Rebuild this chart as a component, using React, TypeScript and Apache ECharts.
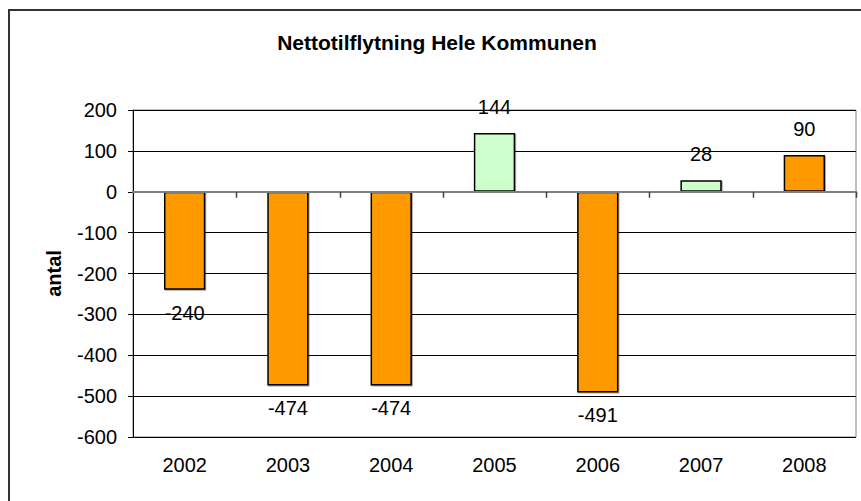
import React, { useEffect, useRef } from "react";
import * as echarts from "echarts";

const titleText = "Nettotilflytning Hele Kommunen";
const yAxisName = "antal";
const years = ["2002", "2003", "2004", "2005", "2006", "2007", "2008"];
const values = [-240, -474, -474, 144, -491, 28, 90];
const barColors = ["#FF9900", "#FF9900", "#FF9900", "#CCFFCC", "#FF9900", "#CCFFCC", "#FF9900"];

const FONT = "'Liberation Sans', Arial, sans-serif";

export default function App() {
  const ref = useRef<HTMLDivElement>(null);
  useEffect(() => {
    if (!ref.current) return;
    const chart = echarts.init(ref.current, null, { renderer: "svg" });
    chart.setOption({
      animation: false,
      backgroundColor: "#ffffff",
      title: {
        text: titleText,
        left: 432,
        top: 27,
        textAlign: "center",
        textStyle: { fontFamily: FONT, fontSize: 21, fontWeight: "bold", color: "#000" },
      },
      graphic: [
        {
          type: "rect",
          shape: { x: 9, y: 10, width: 900, height: 600 },
          style: { fill: "none", stroke: "#333", lineWidth: 2 },
          z: 100,
        },
      ],
      grid: {
        left: 133,
        top: 110,
        right: 5,
        bottom: 64,
        show: true,
        borderColor: "#808080",
        borderWidth: 1,
        containLabel: false,
      },
      xAxis: [
        {
          type: "category",
          data: years,
          position: "bottom",
          axisLine: { show: false, onZero: false },
          axisTick: { show: false },
          axisLabel: { margin: 18, fontFamily: FONT, fontSize: 20, color: "#000" },
          splitLine: { show: false },
        },
        {
          type: "category",
          data: years,
          position: "top",
          axisLine: { show: true, onZero: true, lineStyle: { color: "#808080", width: 2 } },
          axisTick: { show: false },
          axisLabel: { show: false },
          splitLine: { show: false },
          z: 5,
        },
      ],
      yAxis: {
        type: "value",
        min: -600,
        max: 200,
        interval: 100,
        name: yAxisName,
        nameLocation: "middle",
        nameRotate: 90,
        nameGap: 69,
        nameTextStyle: { fontFamily: FONT, fontSize: 20, fontWeight: "bold", color: "#000" },
        axisLine: { show: true, lineStyle: { color: "#000", width: 1 } },
        axisTick: { show: true, length: 5, inside: false, lineStyle: { color: "#000" } },
        axisLabel: { margin: 16, fontFamily: FONT, fontSize: 20, color: "#000" },
        splitLine: { show: true, lineStyle: { color: "#000", width: 1 } },
      },
      series: [
        {
          type: "bar",
          xAxisIndex: 0,
          barWidth: "40%",
          data: values.map((v, i) => ({
            value: v,
            itemStyle: { color: barColors[i] },
            label: {
              position: v >= 0 ? "top" : "bottom",
              distance: v >= 0 ? 16 : 13,
            },
          })),
          itemStyle: {
            borderColor: "#000",
            borderWidth: 1.5,
            shadowColor: "rgba(0,0,0,0.35)",
            shadowOffsetX: 1,
            shadowOffsetY: 1,
            shadowBlur: 0,
          },
          label: {
            show: true,
            fontFamily: FONT,
            fontSize: 20,
            color: "#000",
          },
          z: 3,
        },
        {
          type: "custom",
          xAxisIndex: 0,
          silent: true,
          z: 6,
          data: years.map((y, i) => [i, 0]),
          renderItem: (params: any, api: any) => {
            const p = api.coord([api.value(0), 0]);
            const half = api.size([1, 0])[0] / 2;
            const x = Math.round(p[0] + half) + 0.5;
            return {
              type: "line",
              shape: { x1: x, y1: p[1], x2: x, y2: p[1] + 6 },
              style: { stroke: "#404040", lineWidth: 1.5 },
            };
          },
        },
      ],
    });
    return () => chart.dispose();
  }, []);
  return (
    <div
      ref={ref}
      style={{ position: "fixed", left: 0, top: 0, width: 861, height: 501 }}
    />
  );
}
